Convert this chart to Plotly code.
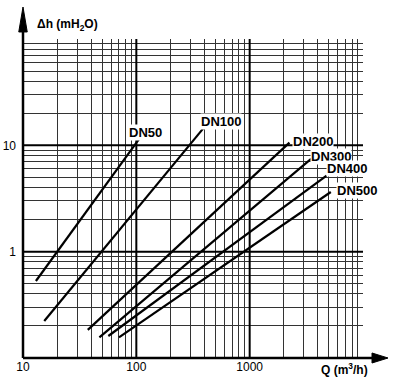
import numpy as np
import plotly.graph_objects as go

# ---- data ----
series_names = ["DN50", "DN100", "DN200", "DN300", "DN400", "DN500"]
q_start = [13.0, 15.4, 37.3, 47.2, 56.6, 70.3]      # m3/h
h_start = [0.53, 0.223, 0.184, 0.156, 0.161, 0.156]  # mH2O
q_end = [106, 393, 2244, 3483, 4775, 5200]
h_end = [11.5, 14.6, 10.6, 7.47, 5.2, 3.64]

# label anchor points (data units)
label_q = [121.5, 555, 3625, 5250, 7230, 8800]
label_h = [13.2, 16.8, 10.9, 7.8, 6.1, 3.8]

x_tick_labels = {10: "10", 100: "100", 1000: "1000"}
y_tick_labels = {1: "1", 10: "10"}

x_grid = [m * 10 ** k for k in range(1, 4) for m in range(1, 10)] + [10000]
y_grid = [m * 10.0 ** k for k in range(-1, 2) for m in range(1, 10)] + [100]

FONT = "Liberation Sans, Arial, Helvetica, sans-serif"

fig = go.Figure()
for name, q0, h0, q1, h1 in zip(series_names, q_start, h_start, q_end, h_end):
    fig.add_trace(go.Scatter(x=[q0, q1], y=[h0, h1], mode="lines", name=name,
                             line=dict(color="black", width=2.2), showlegend=False,
                             hoverinfo="skip"))

for name, lq, lh in zip(series_names, label_q, label_h):
    fig.add_annotation(x=np.log10(lq), y=np.log10(lh), text="<b>%s</b>" % name,
                       showarrow=False, bgcolor="white", borderpad=0,
                       font=dict(family=FONT, size=13, color="black"))

shapes = []
# thicker decade lines
for v in [100, 1000]:
    shapes.append(dict(type="line", xref="x", yref="paper", x0=v, x1=v, y0=0, y1=1,
                       line=dict(color="black", width=2)))
for v in [1, 10]:
    shapes.append(dict(type="line", xref="paper", yref="y", x0=0, x1=1, y0=v, y1=v,
                       line=dict(color="black", width=2)))
# axes with arrows
shapes.append(dict(type="line", xref="paper", yref="paper", x0=0, x1=0, y0=0, y1=1.06,
                   line=dict(color="black", width=2.5)))
shapes.append(dict(type="line", xref="paper", yref="paper", x0=0, x1=1.035, y0=0, y1=0,
                   line=dict(color="black", width=2.5)))
shapes.append(dict(type="path", xref="paper", yref="paper",
                   path="M -0.0125 1.022 L 0 1.1003 L 0.0125 1.022 Z",
                   fillcolor="black", line=dict(color="black", width=1)))
shapes.append(dict(type="path", xref="paper", yref="paper",
                   path="M 1.0265 -0.0157 L 1.0735 0 L 1.0265 0.0157 Z",
                   fillcolor="black", line=dict(color="black", width=1)))

fig.add_annotation(xref="paper", yref="paper", x=0.035, y=1.045, xanchor="left",
                   yanchor="middle", showarrow=False,
                   text="<b>Δh (mH<sub>2</sub>O)</b>",
                   font=dict(family=FONT, size=12, color="black"))
fig.add_annotation(xref="paper", yref="paper", x=0.872, y=-0.035, xanchor="left",
                   yanchor="middle", showarrow=False,
                   text="<b>Q (m<sup>3</sup>/h)</b>",
                   font=dict(family=FONT, size=12, color="black"))

fig.update_layout(
    width=399, height=380,
    margin=dict(l=23, r=36, t=39, b=22, autoexpand=False),
    paper_bgcolor="white", plot_bgcolor="white",
    shapes=shapes,
    xaxis=dict(type="log", range=[1, 4], tickmode="array", tickvals=x_grid,
               ticktext=[x_tick_labels.get(v, "") for v in x_grid],
               showgrid=True, gridcolor="#333333", gridwidth=1, ticks="",
               showline=False, zeroline=False, automargin=False,
               tickfont=dict(family=FONT, size=12, color="black")),
    yaxis=dict(type="log", range=[-1, 2], tickmode="array", tickvals=y_grid,
               ticktext=[y_tick_labels.get(v, "") for v in y_grid],
               showgrid=True, gridcolor="#333333", gridwidth=1, ticks="",
               showline=False, zeroline=False, ticklabelstandoff=6, automargin=False,
               tickfont=dict(family=FONT, size=12, color="black")),
)

fig.write_html("out.html", config={"displayModeBar": False},
               post_script="document.body.style.margin='0';document.body.style.padding='0';")
